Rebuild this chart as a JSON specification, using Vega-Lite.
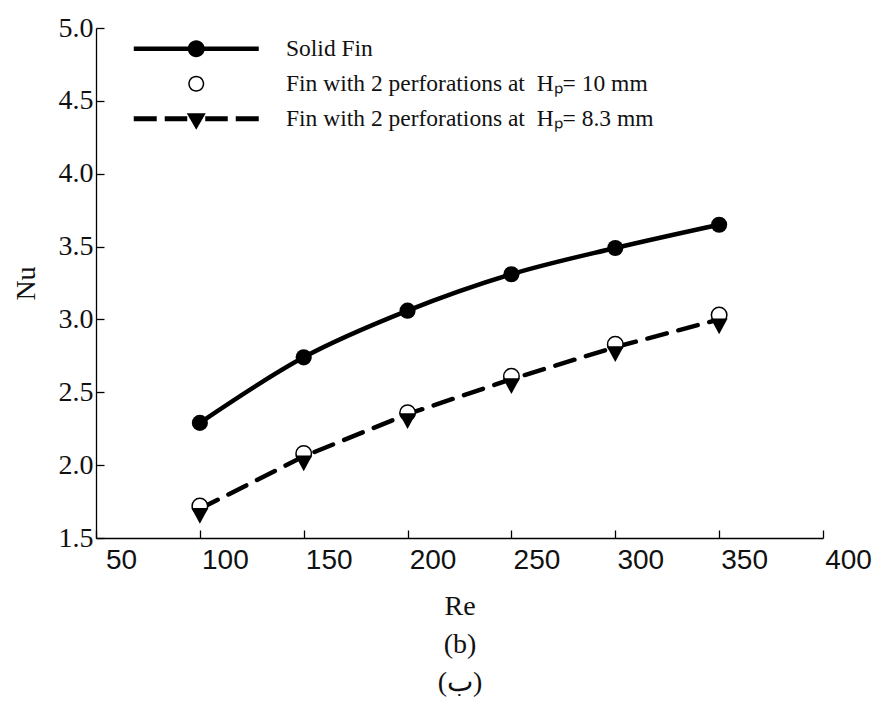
{
  "$schema": "https://vega.github.io/schema/vega-lite/v6.json",
  "width": 727,
  "height": 510,
  "autosize": {"type": "none"},
  "padding": {"left": 96, "top": 28, "right": 59, "bottom": 172},
  "background": "white",
  "config": {
    "view": {"stroke": null},
    "axis": {
      "domainColor": "#000",
      "domainWidth": 1.3,
      "tickColor": "#000",
      "tickWidth": 1.3,
      "grid": false,
      "labelColor": "#111",
      "titleColor": "#111",
      "titleFontWeight": "normal"
    }
  },
  "data": {
    "values": [
      {"Re": 100, "Nu": 2.29, "series": "Solid Fin"},
      {"Re": 150, "Nu": 2.74, "series": "Solid Fin"},
      {"Re": 200, "Nu": 3.06, "series": "Solid Fin"},
      {"Re": 250, "Nu": 3.31, "series": "Solid Fin"},
      {"Re": 300, "Nu": 3.49, "series": "Solid Fin"},
      {"Re": 350, "Nu": 3.65, "series": "Solid Fin"},
      {"Re": 100, "Nu": 1.72, "series": "Fin with 2 perforations at \u00a0Hₚ= 10 mm"},
      {"Re": 150, "Nu": 2.08, "series": "Fin with 2 perforations at \u00a0Hₚ= 10 mm"},
      {"Re": 200, "Nu": 2.36, "series": "Fin with 2 perforations at \u00a0Hₚ= 10 mm"},
      {"Re": 250, "Nu": 2.61, "series": "Fin with 2 perforations at \u00a0Hₚ= 10 mm"},
      {"Re": 300, "Nu": 2.83, "series": "Fin with 2 perforations at \u00a0Hₚ= 10 mm"},
      {"Re": 350, "Nu": 3.03, "series": "Fin with 2 perforations at \u00a0Hₚ= 10 mm"},
      {"Re": 100, "Nu": 1.70, "series": "Fin with 2 perforations at \u00a0Hₚ= 8.3 mm"},
      {"Re": 150, "Nu": 2.06, "series": "Fin with 2 perforations at \u00a0Hₚ= 8.3 mm"},
      {"Re": 200, "Nu": 2.35, "series": "Fin with 2 perforations at \u00a0Hₚ= 8.3 mm"},
      {"Re": 250, "Nu": 2.59, "series": "Fin with 2 perforations at \u00a0Hₚ= 8.3 mm"},
      {"Re": 300, "Nu": 2.81, "series": "Fin with 2 perforations at \u00a0Hₚ= 8.3 mm"},
      {"Re": 350, "Nu": 3.00, "series": "Fin with 2 perforations at \u00a0Hₚ= 8.3 mm"}
    ]
  },
  "encoding": {
    "x": {
      "field": "Re",
      "type": "quantitative",
      "scale": {"domain": [50, 400], "nice": false, "zero": false},
      "axis": {
        "values": [50, 100, 150, 200, 250, 300, 350, 400],
        "title": ["Re", "(b)", "(ب)"],
        "titleFont": "Liberation Serif",
        "titleFontSize": 28,
        "titleLineHeight": 38,
        "titlePadding": 18,
        "labelFont": "Liberation Sans",
        "labelFontSize": 28,
        "labelOffset": 25,
        "tickSize": -8,
        "labelPadding": 16,
        "labelFlush": false
      }
    },
    "y": {
      "field": "Nu",
      "type": "quantitative",
      "scale": {"domain": [1.5, 5.0], "nice": false, "zero": false},
      "axis": {
        "values": [1.5, 2.0, 2.5, 3.0, 3.5, 4.0, 4.5, 5.0],
        "format": ".1f",
        "title": "Nu",
        "titleFont": "Liberation Serif",
        "titleFontSize": 28,
        "titlePadding": 18,
        "labelFont": "Liberation Serif",
        "labelFontSize": 28,
        "tickSize": -8,
        "labelPadding": 11,
        "labelFlush": false
      }
    }
  },
  "layer": [
    {
      "transform": [{"filter": "datum.series === 'Solid Fin'"}],
      "mark": {"type": "line", "color": "black", "strokeWidth": 4.5, "interpolate": "monotone"}
    },
    {
      "transform": [{"filter": "indexof(datum.series, '8.3 mm') >= 0"}],
      "mark": {"type": "line", "color": "black", "strokeWidth": 4.5, "strokeDash": [20, 12], "strokeCap": "round"}
    },
    {
      "transform": [{"filter": "datum.series === 'Solid Fin'"}],
      "mark": {"type": "point", "shape": "circle", "filled": true, "color": "black", "opacity": 1, "size": 260}
    },
    {
      "transform": [{"filter": "indexof(datum.series, '10 mm') >= 0"}],
      "mark": {"type": "point", "shape": "circle", "fill": "white", "stroke": "black", "strokeWidth": 1.5, "opacity": 1, "fillOpacity": 1, "size": 240}
    },
    {
      "transform": [{"filter": "indexof(datum.series, '8.3 mm') >= 0"}],
      "mark": {"type": "point", "shape": "M-1,-0.1L1,-0.1L0,1.75Z", "filled": true, "color": "black", "opacity": 1, "size": 289}
    },
    {
      "mark": {"type": "point", "filled": true, "color": "black", "opacity": 0},
      "encoding": {
        "shape": {
          "field": "series",
          "type": "nominal",
          "scale": {
            "domain": ["Solid Fin", "Fin with 2 perforations at \u00a0Hₚ= 10 mm", "Fin with 2 perforations at \u00a0Hₚ= 8.3 mm"],
            "range": [
              "M-6.25,-0.225L6.25,-0.225L6.25,0.225L-6.25,0.225ZM0.85,0A0.85,0.85,0,1,1,-0.85,0A0.85,0.85,0,1,1,0.85,0Z",
              "M0.8,0A0.8,0.8,0,1,1,-0.8,0A0.8,0.8,0,1,1,0.8,0ZM0.65,0A0.65,0.65,0,1,0,-0.65,0A0.65,0.65,0,1,0,0.65,0Z",
              "M-6.25,-0.25L-3.95,-0.25L-3.95,0.25L-6.25,0.25ZM-3.15,-0.25L-0.9,-0.25L-0.9,0.25L-3.15,0.25ZM0.9,-0.25L3.15,-0.25L3.15,0.25L0.9,0.25ZM3.95,-0.25L6.25,-0.25L6.25,0.25L3.95,0.25ZM-0.95,-0.55L0.95,-0.55L0,1.1Z"
            ]
          },
          "legend": {
            "orient": "none",
            "legendX": 37,
            "legendY": 9,
            "title": null,
            "padding": 0,
            "symbolSize": 400,
            "symbolOffset": 51.5,
            "labelOffset": 78,
            "symbolStrokeWidth": 0,
            "symbolOpacity": 1,
            "symbolFillColor": "black",
            "labelFont": "Liberation Serif",
            "labelFontSize": 23.5,
            "labelColor": "#111",
            "labelLimit": 0,
            "rowPadding": 10,
            "encode": {
              "labels": {
                "fontSize": {"condition": {"test": "datum.value === 'Solid Fin'", "value": 21.5}, "value": 23.5}
              }
            }
          }
        }
      }
    }
  ]
}
